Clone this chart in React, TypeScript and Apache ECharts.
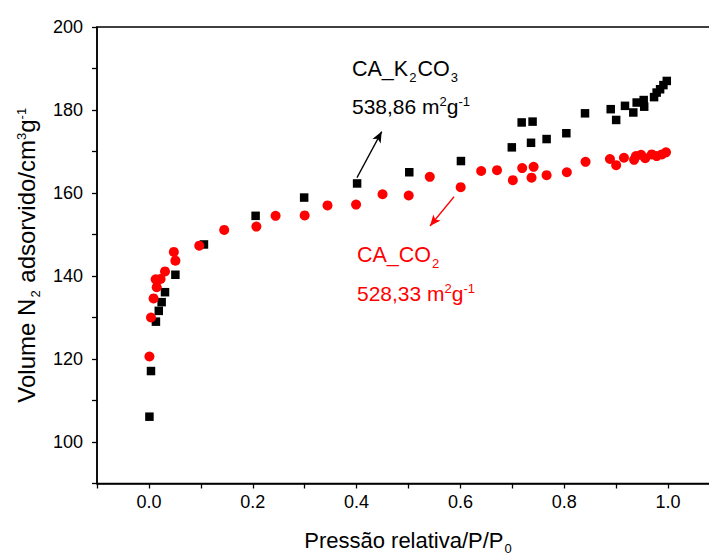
import React, { useEffect, useRef } from "react";
import * as echarts from "echarts";

// CA_K2CO3 (black squares)
const kX = [0.001, 0.004, 0.0135, 0.019, 0.0245, 0.031, 0.051, 0.106, 0.2055, 0.299, 0.401, 0.5015, 0.601, 0.699, 0.718, 0.739, 0.736, 0.766, 0.804, 0.84, 0.8895, 0.9, 0.917, 0.933, 0.9395, 0.953, 0.954, 0.973, 0.978, 0.9846, 0.991, 0.9975];
const kY = [106.1, 117.1, 129.0, 131.6, 133.7, 136.1, 140.3, 147.6, 154.5, 158.9, 162.3, 165.0, 167.7, 171.0, 177.0, 177.2, 172.1, 173.0, 174.4, 179.2, 180.2, 177.6, 181.0, 179.4, 181.8, 182.4, 180.8, 183.1, 184.2, 185.0, 186.0, 187.0];

// CA_CO2 (red circles)
const cX = [0.001, 0.004, 0.009, 0.013, 0.015, 0.0225, 0.031, 0.048, 0.051, 0.097, 0.145, 0.207, 0.244, 0.3, 0.344, 0.399, 0.45, 0.5004, 0.541, 0.6005, 0.64, 0.6705, 0.701, 0.719, 0.737, 0.741, 0.766, 0.805, 0.841, 0.888, 0.9, 0.915, 0.9345, 0.938, 0.948, 0.956, 0.9685, 0.978, 0.988, 0.996];
const cY = [120.6, 130.0, 134.6, 139.2, 137.3, 139.3, 141.1, 145.8, 143.7, 147.3, 151.1, 151.9, 154.5, 154.6, 157.0, 157.2, 159.7, 159.4, 163.9, 161.4, 165.3, 165.5, 163.1, 166.0, 163.7, 166.3, 164.3, 165.0, 167.5, 168.2, 166.7, 168.5, 168.0, 168.9, 169.2, 168.4, 169.3, 168.9, 169.3, 169.8];

// annotation arrows (data coordinates: tail -> head)
const kArrow = [[0.4008, 163.7], [0.4484, 174.8]];
const cArrow = [[0.5877, 159.1], [0.5414, 152.05]];

const FONT = "'Liberation Sans', Arial, sans-serif";

const richText = (color: string, size: number, subPad = 18) => ({
  t: { fontSize: size, fontFamily: FONT, color, fill: color, lineHeight: size + 3 },
  sub: { fontSize: 13, fontFamily: FONT, color, fill: color, lineHeight: 13, padding: [subPad, 1, 0, 1] },
  sup: { fontSize: 13, fontFamily: FONT, color, fill: color, lineHeight: 13, padding: [0, 0, 10, 0] },
});

export default function App() {
  const ref = useRef<HTMLDivElement>(null);
  useEffect(() => {
    if (!ref.current) return;
    const chart = echarts.init(ref.current, null, { renderer: "svg" });
    const arrowLine = (pts: number[][], color: string) => ({
      silent: true,
      animation: false,
      label: { show: false },
      lineStyle: { color, width: 1.3, type: "solid", opacity: 1 },
      emphasis: { disabled: true },
      data: [[
        { coord: pts[0], symbol: "none" },
        { coord: pts[1], symbol: "arrow", symbolSize: [7, 11] },
      ]],
    });
    chart.setOption({
      animation: false,
      backgroundColor: "#fff",
      grid: {
        left: 97,
        top: 27,
        width: 623,
        height: 456.5,
        show: true,
        borderColor: "#000",
        borderWidth: 1.5,
        backgroundColor: "transparent",
        containLabel: false,
        outerBoundsMode: "none",
      },
      xAxis: {
        type: "value",
        min: -0.1,
        max: 1.1,
        interval: 0.1,
        splitLine: { show: false },
        axisLine: { onZero: false, lineStyle: { color: "#000", width: 1.5 } },
        axisTick: { show: true, inside: false, length: 5, lineStyle: { color: "#000", width: 1.3 } },
        axisLabel: {
          color: "#000",
          fontSize: 18,
          fontFamily: FONT,
          margin: 9,
          showMaxLabel: true,
          formatter: (v: number) => {
            const k = Math.round(v * 10);
            if (k < 0 || k % 2 !== 0 || k > 10) return "";
            return (k / 10).toFixed(1);
          },
        },
        name: "{t|Pressão relativa/P/P}{sub|0}",
        nameLocation: "middle",
        nameGap: 44,
        nameTextStyle: { rich: richText("#000", 22, 16) },
      },
      yAxis: {
        type: "value",
        min: 90,
        max: 200,
        interval: 10,
        splitLine: { show: false },
        axisLine: { onZero: false, lineStyle: { color: "#000", width: 1.5 } },
        axisTick: { show: true, inside: false, length: 5, lineStyle: { color: "#000", width: 1.3 } },
        axisLabel: {
          color: "#000",
          fontSize: 18,
          fontFamily: FONT,
          margin: 14,
          formatter: (v: number) => (Math.round(v) % 20 === 0 ? String(Math.round(v)) : ""),
        },
        name: "{t|Volume N}{sub|2}{t| adsorvido/cm}{sup|3}{t|g}{sup|-1}",
        nameLocation: "middle",
        nameRotate: 90,
        nameGap: 49,
        nameTextStyle: { rich: richText("#000", 24) },
      },
      series: [
        {
          name: "CA_K2CO3",
          type: "scatter",
          symbol: "rect",
          symbolSize: 8.5,
          itemStyle: { color: "#000", opacity: 1 },
          data: kX.map((x, i) => [x, kY[i]]),
          markLine: arrowLine(kArrow, "#000"),
          z: 2,
        },
        {
          name: "CA_CO2",
          type: "scatter",
          symbol: "circle",
          symbolSize: 10,
          itemStyle: { color: "#ff0000", opacity: 1 },
          data: cX.map((x, i) => [x, cY[i]]),
          markLine: arrowLine(cArrow, "#ff0000"),
          z: 3,
        },
      ],
      graphic: [
        {
          type: "text",
          x: 352,
          y: 68.5,
          style: {
            text: "{t|CA_K}{sub|2}{t|CO}{sub|3}",
            rich: richText("#000", 21.5),
            fill: "#000",
            align: "left",
            verticalAlign: "middle",
          },
        },
        {
          type: "text",
          x: 352,
          y: 106.5,
          style: {
            text: "{t|538,86 m}{sup|2}{t|g}{sup|-1}",
            rich: richText("#000", 21),
            fill: "#000",
            align: "left",
            verticalAlign: "middle",
          },
        },
        {
          type: "text",
          x: 357,
          y: 254.5,
          style: {
            text: "{t|CA_CO}{sub|2}",
            rich: richText("#ff0000", 21.5),
            fill: "#ff0000",
            align: "left",
            verticalAlign: "middle",
          },
        },
        {
          type: "text",
          x: 357,
          y: 293.5,
          style: {
            text: "{t|528,33 m}{sup|2}{t|g}{sup|-1}",
            rich: richText("#ff0000", 21),
            fill: "#ff0000",
            align: "left",
            verticalAlign: "middle",
          },
        },
      ],
    });
    return () => chart.dispose();
  }, []);
  return (
    <div
      ref={ref}
      style={{ position: "fixed", left: 0, top: 0, width: 709, height: 558, background: "#fff" }}
    />
  );
}
